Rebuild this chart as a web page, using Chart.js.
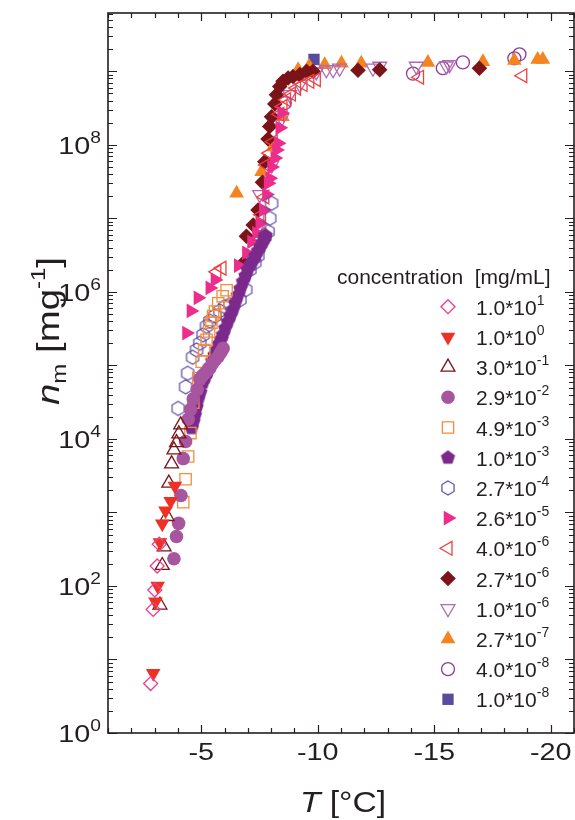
<!DOCTYPE html>
<html>
<head>
<meta charset="utf-8">
<script src="https://cdn.jsdelivr.net/npm/chart.js@4.4.1/dist/chart.umd.min.js"></script>
<style>
  html, body { margin: 0; padding: 0; background: #fff; }
  #wrap { width: 575px; height: 820px; }
</style>
</head>
<body>
<div id="wrap"><canvas id="nmChart" width="575" height="820"></canvas></div>
<script>
// concentrations, legend order
const concMantissa = ['1.0', '1.0', '3.0', '2.9', '4.9', '1.0', '2.7', '2.6', '4.0', '2.7', '1.0', '2.7', '4.0', '1.0'];
const concExponent = ['1', '0', '-1', '-2', '-3', '-3', '-4', '-5', '-6', '-6', '-6', '-7', '-8', '-8'];

// T [°C] and n_m [mg^-1], one pair of arrays per concentration
const t01 = [-2.83, -2.94, -3.01, -3.11, -3.20];
const n01 = [4.7, 48, 88, 187, 370];

const t02 = [-2.94, -3.04, -3.13, -3.23, -3.33, -3.47, -3.69, -3.87];
const n02 = [6.5, 61, 100, 390, 700, 1050, 1420, 2290];

const t03 = [-3.23, -3.33, -3.41, -3.54, -3.61, -3.73, -3.83, -3.94, -4.04, -4.12];
const n03 = [55, 190, 340, 880, 2500, 4570, 7100, 8900, 11700, 15500];

const t04 = [-3.83, -3.94, -4.03, -4.13, -4.23, -4.33, -4.44, -4.54, -4.66, -4.83, -4.94, -5.05, -5.16, -5.27, -5.37, -5.48, -5.59, -5.73, -5.84, -5.94];
const n04 = [234, 470, 710, 1700, 5400, 9200, 18500, 25000, 35000, 47000, 65000, 72000, 78000, 85000, 92000, 105000, 118000, 132000, 150000, 170000];

const t05 = [-4.23, -4.33, -4.44, -4.54, -4.66, -4.87, -5.02, -5.13, -5.23, -5.34, -5.44, -5.51, -5.59, -5.73, -5.92, -6.09];
const n05 = [1380, 2830, 5750, 12000, 31000, 67000, 112000, 162000, 223000, 290000, 380000, 470000, 540000, 700000, 870000, 1050000];

const t06 = [-4.59, -4.66, -4.73, -4.80, -4.86, -4.96, -5.07, -5.17, -5.27, -5.37, -5.47, -5.57, -5.67, -5.76, -5.85, -5.93, -6.03, -6.14, -6.25, -6.36, -6.46, -6.57, -6.68, -6.79, -6.90, -7.00, -7.11, -7.22, -7.33, -7.43, -7.54, -7.64, -7.72, -7.77];
const n06 = [1.4e4, 1.7e4, 2.1e4, 2.7e4, 3.4e4, 4.3e4, 5.8e4, 6.9e4, 8.0e4, 9.5e4, 1.15e5, 1.38e5, 1.62e5, 1.95e5, 2.25e5, 2.6e5, 3.2e5, 3.9e5, 4.7e5, 5.7e5, 7.1e5, 8.9e5, 1.1e6, 1.37e6, 1.65e6, 2.0e6, 2.35e6, 2.7e6, 3.1e6, 3.6e6, 4.1e6, 4.7e6, 5.3e6, 5.8e6];

const t07 = [-4.01, -4.33, -4.42, -4.63, -4.80, -4.94, -5.08, -5.23, -5.37, -5.59, -5.80, -6.01, -6.23, -6.66, -6.91, -7.09, -7.30, -7.43, -7.73, -7.87, -7.94, -8.02];
const n07 = [2.6e4, 5.1e4, 7.8e4, 1.29e5, 1.62e5, 2.0e5, 2.6e5, 3.4e5, 4.0e5, 4.7e5, 5.5e5, 6.3e5, 6.7e5, 7.8e5, 1.07e6, 2.0e6, 2.5e6, 3.1e6, 5.6e6, 6.6e6, 1.0e7, 1.6e7];

const t08 = [-4.37, -4.56, -4.86, -5.37, -5.59, -6.59, -6.94, -7.16, -7.37, -7.51, -7.66, -7.80, -7.87, -7.94, -8.02, -8.16, -8.23, -8.30, -8.37, -8.45];
const n08 = [2.75e5, 5.5e5, 8.3e5, 1.13e6, 1.45e6, 2.28e6, 3.4e6, 4.8e6, 6.3e6, 8.5e6, 1.3e7, 2.1e7, 3.0e7, 3.5e7, 5.0e7, 6.6e7, 8.5e7, 1.05e8, 1.7e8, 2.7e8];

const t09 = [-5.67, -5.89, -7.60, -7.59, -7.73, -7.80, -7.94, -8.09, -8.37, -8.51, -8.66, -8.87, -9.09, -9.37, -9.66, -9.94, -14.37, -18.80];
const n09 = [1.87e6, 2.1e6, 6.0e6, 1.12e7, 1.95e7, 5.3e7, 7.7e7, 1.1e8, 2.6e8, 3.3e8, 4.1e8, 4.9e8, 5.9e8, 6.6e8, 7.3e8, 7.7e8, 8.3e8, 8.7e8];

const t10 = [-6.80, -6.94, -7.23, -7.44, -7.63, -7.73, -7.87, -7.94, -8.02, -8.16, -8.23, -8.37, -8.51, -8.73, -8.94, -9.23, -9.52, -9.80, -11.73, -12.66, -16.94];
const n10 = [2.45e6, 5.7e6, 8.1e6, 1.3e7, 3.1e7, 5.9e7, 1.2e8, 1.78e8, 2.4e8, 3.6e8, 4.8e8, 6.2e8, 7.3e8, 8.1e8, 8.5e8, 9.0e8, 1.0e9, 1.0e9, 1.03e9, 1.05e9, 1.1e9];

const t11 = [-7.51, -8.03, -8.46, -8.80, -9.23, -9.94, -10.37, -10.66, -10.94, -12.37, -12.66, -14.23, -15.52, -15.66];
const n11 = [2.1e7, 5.3e7, 2.3e8, 4.8e8, 6.6e8, 9.8e8, 1.05e9, 1.05e9, 1.1e9, 1.1e9, 1.17e9, 1.17e9, 1.18e9, 1.23e9];

const t12 = [-6.52, -7.59, -8.09, -8.49, -9.16, -9.63, -10.30, -11.02, -11.87, -14.73, -17.09, -18.44, -19.44, -19.66];
const n12 = [2.2e7, 4.3e7, 9.3e7, 2.4e8, 1.05e9, 1.17e9, 1.23e9, 1.29e9, 1.29e9, 1.32e9, 1.35e9, 1.4e9, 1.44e9, 1.44e9];

const t13 = [-8.59, -14.09, -15.37, -16.23, -18.44, -18.66];
const n13 = [3.7e8, 9.3e8, 1.1e9, 1.32e9, 1.5e9, 1.7e9];

const t14 = [-9.84];
const n14 = [1.45e9];

const seriesT = [t01, t02, t03, t04, t05, t06, t07, t08, t09, t10, t11, t12, t13, t14];
const seriesN = [n01, n02, n03, n04, n05, n06, n07, n08, n09, n10, n11, n12, n13, n14];

// axis ticks
const xLabelValues = [-5, -10, -15, -20];
const yLabelExps = [0, 2, 4, 6, 8];

// marker styles
const colors = ['#ec3d8f', '#ee3124', '#7a1418', '#a8559f', '#f68b3c', '#7b2a8c', '#5b4ba3',
                '#ec2d8b', '#ef4040', '#7a1418', '#b067b5', '#f58420', '#8e3c9c', '#5a4a9e'];
const shapes = ['rectRot', 'triangle', 'triangle', 'circle', 'rect', 'pentagon', 'hexagon',
                'triangle', 'triangle', 'rectRot', 'triangle', 'triangle', 'circle', 'rect'];
const rotations = [0, 180, 0, 0, 0, 0, 0, 90, 270, 0, 180, 0, 0, 0];
const filled = [false, true, false, true, false, true, false, true, false, true, false, true, false, true];
const radii = [7, 8.5, 8, 6.8, 8, 7.5, 7, 8.5, 8, 7.8, 8, 8.5, 6.5, 8];

const INK = '#231f20';
const FONT = '"Liberation Sans", Arial, Helvetica, sans-serif';

// small canvases for the shapes chart.js doesn't have
function polyImage(sides, r, color, solid) {
  const c = document.createElement('canvas');
  const s = Math.ceil(2 * r + 4);
  c.width = s; c.height = s;
  const g = c.getContext('2d');
  g.beginPath();
  for (let k = 0; k < sides; k++) {
    const a = -Math.PI / 2 + k * 2 * Math.PI / sides;
    const px = s / 2 + r * Math.cos(a), py = s / 2 + r * Math.sin(a);
    if (k === 0) g.moveTo(px, py); else g.lineTo(px, py);
  }
  g.closePath();
  if (solid) { g.fillStyle = color; g.fill(); }
  else { g.strokeStyle = color; g.lineWidth = 1.2; g.stroke(); }
  return c;
}

function styleFor(i) {
  if (shapes[i] === 'pentagon') return polyImage(5, radii[i], colors[i], filled[i]);
  if (shapes[i] === 'hexagon') return polyImage(6, radii[i], colors[i], filled[i]);
  return shapes[i];
}
const pointStyles = shapes.map((s, i) => styleFor(i));

// draws text runs (for super/subscripts), stretched horizontally by sx
function drawRuns(ctx, runs, x, y, align, sx) {
  let total = 0;
  runs.forEach(r => { ctx.font = r.font; r.w = ctx.measureText(r.text).width; total += r.w; });
  let cx = align === 'right' ? -total : align === 'center' ? -total / 2 : 0;
  ctx.save();
  ctx.translate(x, y);
  ctx.scale(sx, 1);
  ctx.textAlign = 'left';
  ctx.textBaseline = 'alphabetic';
  ctx.fillStyle = INK;
  runs.forEach(r => {
    ctx.font = r.font;
    ctx.fillText(r.text, cx, r.dy || 0);
    cx += r.w;
  });
  ctx.restore();
}

const frameAndText = {
  id: 'frameAndText',
  afterDraw(chart) {
    const ctx = chart.ctx;
    const xs = chart.scales.x, ys = chart.scales.y;
    const a = chart.chartArea;

    ctx.save();
    ctx.strokeStyle = INK;
    ctx.lineWidth = 1.2;
    ctx.beginPath();
    // y ticks, inward on both sides
    for (let k = 0; k <= 10; k++) {
      for (let m = 1; m <= 9; m++) {
        const v = m * Math.pow(10, k);
        if (v < ys.min || v > ys.max) continue;
        const py = Math.round(ys.getPixelForValue(v)) + 0.5;
        const len = m === 1 ? 9 : 5;
        ctx.moveTo(a.left, py); ctx.lineTo(a.left + len, py);
        ctx.moveTo(a.right, py); ctx.lineTo(a.right - len, py);
      }
    }
    // x ticks every degree
    for (let t = Math.ceil(xs.min); t <= xs.max; t++) {
      const px = Math.round(xs.getPixelForValue(t)) + 0.5;
      const len = t % 5 === 0 ? 8 : 5;
      ctx.moveTo(px, a.bottom); ctx.lineTo(px, a.bottom - len);
      ctx.moveTo(px, a.top); ctx.lineTo(px, a.top + len);
    }
    ctx.stroke();
    ctx.lineWidth = 1.6;
    ctx.strokeRect(a.left, a.top, a.right - a.left, a.bottom - a.top);
    ctx.restore();

    // tick labels
    yLabelExps.forEach(e => {
      const py = ys.getPixelForValue(Math.pow(10, e));
      drawRuns(ctx, [
        { text: '10', font: '24px ' + FONT },
        { text: String(e), font: '16px ' + FONT, dy: -11 }
      ], 101, py + 9, 'right', 1.2);
    });
    xLabelValues.forEach(v => {
      drawRuns(ctx, [{ text: String(v), font: '24px ' + FONT }], xs.getPixelForValue(v), 760, 'center', 1.2);
    });

    // axis titles
    drawRuns(ctx, [
      { text: 'T', font: 'italic 30px ' + FONT },
      { text: ' [°C]', font: '30px ' + FONT }
    ], 343, 812, 'center', 1.12);

    ctx.save();
    ctx.translate(59, 331);
    ctx.rotate(-Math.PI / 2);
    drawRuns(ctx, [
      { text: 'n', font: 'italic 32px ' + FONT },
      { text: 'm', font: '20px ' + FONT, dy: 7 },
      { text: ' [mg', font: '32px ' + FONT },
      { text: '-1', font: '20px ' + FONT, dy: -14 },
      { text: ']', font: '32px ' + FONT }
    ], 0, 0, 'center', 1.2);
    ctx.restore();

    // legend
    drawRuns(ctx, [{ text: 'concentration  [mg/mL]', font: '21px ' + FONT }], 337, 284, 'left', 1);
    chart.data.datasets.forEach((ds, i) => {
      const ry = 306.7 + i * 30.2;
      ctx.save();
      ctx.fillStyle = filled[i] ? colors[i] : 'rgba(0,0,0,0)';
      ctx.strokeStyle = colors[i];
      ctx.lineWidth = 1.3;
      Chart.helpers.drawPoint(ctx, {
        pointStyle: pointStyles[i],
        rotation: rotations[i],
        radius: radii[i],
        borderWidth: filled[i] ? 0 : 1.3
      }, 448, ry);
      ctx.restore();
      drawRuns(ctx, [
        { text: concMantissa[i] + '*10', font: '21px ' + FONT },
        { text: concExponent[i], font: '14px ' + FONT, dy: -10 }
      ], 476, ry + 8, 'left', 1);
    });
  }
};

const datasets = seriesT.map((ts, i) => ({
  label: concMantissa[i] + '*10^' + concExponent[i],
  data: ts.map((t, j) => ({ x: t, y: seriesN[i][j] })),
  pointStyle: pointStyles[i],
  pointRotation: rotations[i],
  pointRadius: radii[i],
  pointBorderColor: colors[i],
  pointBackgroundColor: filled[i] ? colors[i] : 'rgba(0,0,0,0)',
  pointBorderWidth: filled[i] ? 0 : 1.3,
  showLine: false
}));

const ctx = document.getElementById('nmChart').getContext('2d');
const chart = new Chart(ctx, {
  type: 'scatter',
  data: { datasets: datasets },
  options: {
    responsive: false,
    devicePixelRatio: 1,
    animation: false,
    events: [],
    layout: { autoPadding: false, padding: { top: 13, right: 1, left: 0, bottom: 0 } },
    plugins: { legend: { display: false }, tooltip: { enabled: false } },
    scales: {
      x: {
        type: 'linear',
        min: -21,
        max: -1,
        reverse: true,
        ticks: { display: false },
        grid: { display: false },
        border: { display: false },
        afterFit: s => { s.height = 87; }
      },
      y: {
        type: 'logarithmic',
        min: 1,
        max: 6.2e9,
        ticks: { display: false },
        grid: { display: false },
        border: { display: false },
        afterFit: s => { s.width = 108; }
      }
    }
  },
  plugins: [frameAndText]
});
</script>
</body>
</html>
